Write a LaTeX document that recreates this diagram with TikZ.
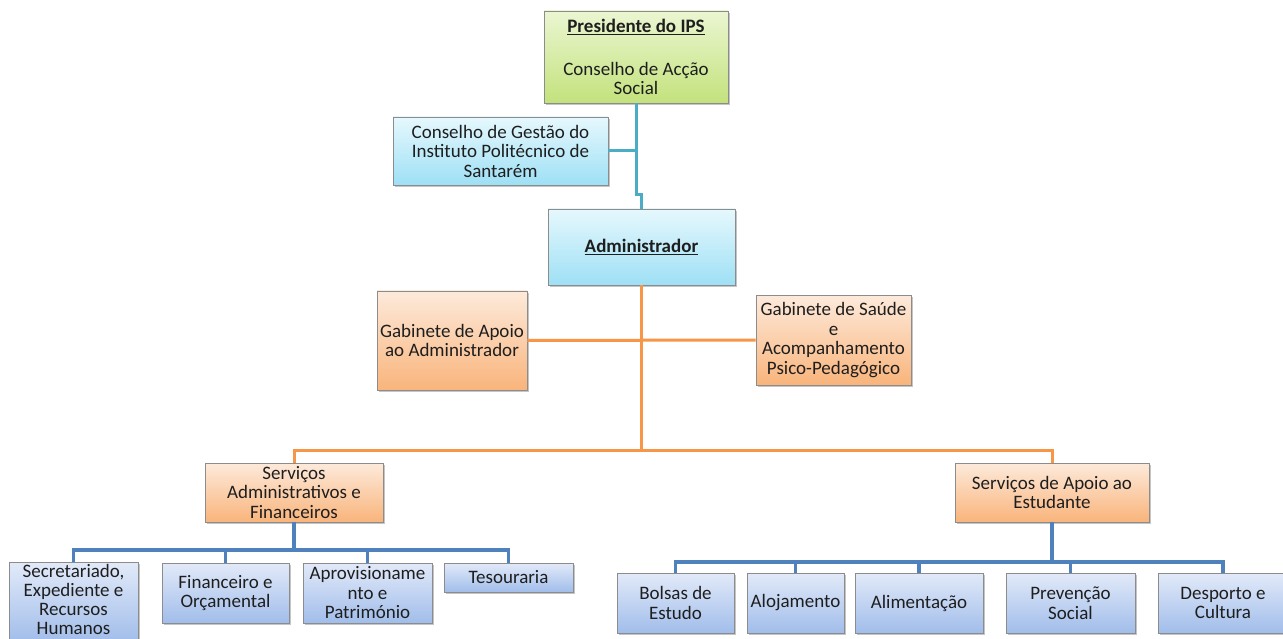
\documentclass[tikz,border=0pt]{standalone}
\usepackage{fontspec}
\setmainfont{Carlito}
\usetikzlibrary{calc,positioning,shadows}
\definecolor{txt}{HTML}{1E1E1E}
\definecolor{edge}{HTML}{8C8C8C}
\definecolor{tealline}{HTML}{4BACC6}
\definecolor{orangeline}{HTML}{F79646}
\definecolor{blueline}{HTML}{4F81BD}
\definecolor{greentop}{HTML}{EBF6D2}
\definecolor{greenbot}{HTML}{C3E27C}
\definecolor{cyantop}{HTML}{E6F8FD}
\definecolor{cyanbot}{HTML}{9EE0F5}
\definecolor{orangetop}{HTML}{FDEADB}
\definecolor{orangebot}{HTML}{F9B47B}
\definecolor{bluetop}{HTML}{E2EAF9}
\definecolor{bluebot}{HTML}{A1BDEA}

\begin{document}
\begin{tikzpicture}[x=1pt, y=-1pt,
	base/.style = {draw=edge, line width=0.6pt, inner sep=1pt, align=center, text=txt,
		font=\fontsize{19}{19.5}\selectfont,
		drop shadow={shadow xshift=1.5pt, shadow yshift=-2pt, opacity=0.45}},
	pres/.style = {base, top color=greentop, bottom color=greenbot},
	head/.style = {base, top color=cyantop, bottom color=cyanbot},
	main/.style = {base, top color=orangetop, bottom color=orangebot},
	unit/.style = {base, top color=bluetop, bottom color=bluebot},
	tline/.style = {draw=tealline, line width=3pt},
	oline/.style = {draw=orangeline, line width=3pt},
	bline/.style = {draw=blueline, line width=3.2pt}]
	\fill[white] (0,0) rectangle (1283,639);
	\useasboundingbox (0,0) rectangle (1283,639);

	\node[pres, minimum width=184, minimum height=92] (ips) at (636,57)
		{\underline{\textbf{Presidente do IPS}}\\[4pt] \\ Conselho de Acção\\ Social};
	\node[head, minimum width=215, minimum height=68] (cg) at (500.5,151)
		{Conselho de Gestão do\\ Instituto Politécnico de\\ Santarém};
	\node[head, minimum width=187, minimum height=76] (adm) at (641.5,247)
		{\underline{\textbf{Administrador}}};

	\node[main, minimum width=150, minimum height=99] (gab) at (452,340.5)
		{Gabinete de Apoio\\ ao Administrador};
	\node[main, minimum width=155, minimum height=90] (gsa) at (833.5,340)
		{Gabinete de Saúde\\ e\\ Acompanhamento\\ Psico-Pedagógico};

	\node[main, minimum width=178, minimum height=59] (saf) at (294,492.5)
		{Serviços\\ Administrativos e\\ Financeiros};
	\node[main, minimum width=194, minimum height=59] (sae) at (1052,492.5)
		{Serviços de Apoio ao\\ Estudante};

	\node[unit, minimum width=129, minimum height=80, font=\fontsize{19}{19}\selectfont,
		text depth=6pt] (sec) at (73.5,602)
		{Secretariado,\\ Expediente e\\ Recursos\\ Humanos};
	\node[unit, minimum width=127, minimum height=60] (fin) at (225.5,593)
		{Financeiro e\\ Orçamental};
	\node[unit, minimum width=129, minimum height=60] (apr) at (367.5,593)
		{Aprovisioname\\ nto e\\ Património};
	\node[unit, minimum width=129, minimum height=29] (tes) at (508.5,577.5)
		{Tesouraria};

	\node[unit, minimum width=117, minimum height=60] (bol) at (675.5,603)
		{Bolsas de\\ Estudo};
	\node[unit, minimum width=97, minimum height=60, inner xsep=0pt] (alo) at (795.5,603)
		{Alojamento};
	\node[unit, minimum width=128, minimum height=60] (ali) at (919,603)
		{Alimentação};
	\node[unit, minimum width=129, minimum height=60] (pre) at (1070.5,603)
		{Prevenção\\ Social};
	\node[unit, minimum width=130, minimum height=60] (des) at (1223,603)
		{Desporto e\\ Cultura};

	\coordinate (jog) at (636,195);
	\coordinate (obus) at (641.5,450);
	\coordinate (lbus) at (294,550);
	\coordinate (rbus) at (1052,562);

	\draw[tline] (ips.south) -- (jog) -| (adm.north);
	\draw[tline] (cg.east) -- (cg.east -| ips.south);

	\draw[oline] (adm.south) -- (obus);
	\draw[oline] (gab.east) -- (gsa.west);
	\draw[oline] (saf.north) |- (obus) -| (sae.north);

	\draw[bline] (saf.south) -- (lbus);
	\foreach \n in {sec,fin,apr,tes}
		\draw[bline] (lbus) -| (\n.north);
	\draw[bline] (sae.south) -- (rbus);
	\foreach \n in {bol,alo,ali,pre,des}
		\draw[bline] (rbus) -| (\n.north);
\end{tikzpicture}
\end{document}
